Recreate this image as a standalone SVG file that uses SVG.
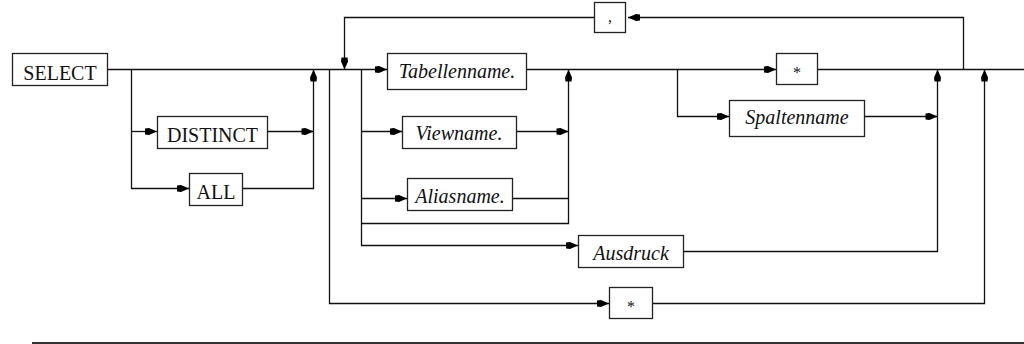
<svg xmlns="http://www.w3.org/2000/svg" width="1024" height="344" viewBox="0 0 1024 344">
<style>
  .box { fill: #fff; stroke: #222; stroke-width: 1.3; }
  .kw { font-family: "Liberation Serif", "DejaVu Serif", serif; font-size: 20px; fill: #111; text-anchor: middle; }
  .it { font-family: "Liberation Serif", "DejaVu Serif", serif; font-style: italic; font-size: 20px; fill: #111; text-anchor: middle; }
  .ln { fill: none; stroke: #111; stroke-width: 1.3; }
  .arr { marker-end: url(#ah); }
</style>
<defs>
  <marker id="ah" viewBox="0 0 12 8" refX="12" refY="4" markerWidth="13" markerHeight="8" markerUnits="userSpaceOnUse" orient="auto">
    <path d="M0,1 L4,0.5 L12,4 L4,7.5 L0,7 Z" fill="#000"/>
  </marker>
</defs>
<rect width="1024" height="344" fill="#fff"/>
<g id="connectors">
  <path class="ln" d="M107,69.5 H313.5"/>
  <path class="ln arr" d="M131.5,69.5 V188.5 H189"/>
  <path class="ln arr" d="M131.5,131.5 H157"/>
  <path class="ln arr" d="M267,131.5 H313.5"/>
  <path class="ln arr" d="M242,188.5 H313.5 V69.5"/>
  <path class="ln arr" d="M313.5,69.5 H387"/>
  <path class="ln arr" d="M329.5,69.5 V303.5 H609"/>
  <path class="ln arr" d="M652,303.5 H984.5 V69.5"/>
  <path class="ln arr" d="M963.5,69.5 V17.5 H628"/>
  <path class="ln arr" d="M594,17.5 H344.5 V69.5"/>
  <path class="ln arr" d="M361.5,69.5 V245.5 H578"/>
  <path class="ln arr" d="M361.5,131.5 H402"/>
  <path class="ln arr" d="M361.5,198.5 H407"/>
  <path class="ln arr" d="M361.5,223.5 H568.5 V69.5"/>
  <path class="ln arr" d="M516,131.5 H568.5"/>
  <path class="ln" d="M512,198.5 H568.5"/>
  <path class="ln arr" d="M526,69.5 H776"/>
  <path class="ln arr" d="M677.5,69.5 V116.5 H729"/>
  <path class="ln arr" d="M864,116.5 H937.5"/>
  <path class="ln arr" d="M683,251.5 H937.5 V69.5"/>
  <path class="ln" d="M817,69.5 H1024"/>
</g>
<g id="select"><rect class="box" x="12.5" y="53.5" width="95" height="32"/><text class="kw" x="60" y="80">SELECT</text></g>
<g id="distinct"><rect class="box" x="157.5" y="116.5" width="110" height="32"/><text class="kw" x="212.5" y="142">DISTINCT</text></g>
<g id="all"><rect class="box" x="189.5" y="173.5" width="53" height="32"/><text class="kw" x="216" y="199">ALL</text></g>
<g id="comma"><rect class="box" x="594.5" y="2.5" width="31" height="30"/><text class="kw" x="610" y="22" style="font-size:16px">,</text></g>
<g id="tabellenname"><rect class="box" x="387.5" y="53.5" width="139" height="36"/><text class="it" x="457" y="78">Tabellenname.</text></g>
<g id="viewname"><rect class="box" x="402.5" y="116.5" width="114" height="32"/><text class="it" x="459" y="140">Viewname.</text></g>
<g id="aliasname"><rect class="box" x="407.5" y="178.5" width="105" height="32"/><text class="it" x="460" y="203">Aliasname.</text></g>
<g id="ausdruck"><rect class="box" x="578.5" y="235.5" width="105" height="32"/><text class="it" x="631" y="260">Ausdruck</text></g>
<g id="star1"><rect class="box" x="776.5" y="53.5" width="41" height="31"/><text class="kw" x="797" y="78" style="font-size:16px">*</text></g>
<g id="spaltenname"><rect class="box" x="729.5" y="100.5" width="135" height="36"/><text class="it" x="797" y="124">Spaltenname</text></g>
<g id="star2"><rect class="box" x="609.5" y="287.5" width="43" height="31"/><text class="kw" x="631" y="312" style="font-size:16px">*</text></g>
<line x1="32" y1="343" x2="1024" y2="343" stroke="#333" stroke-width="2"/>
</svg>
